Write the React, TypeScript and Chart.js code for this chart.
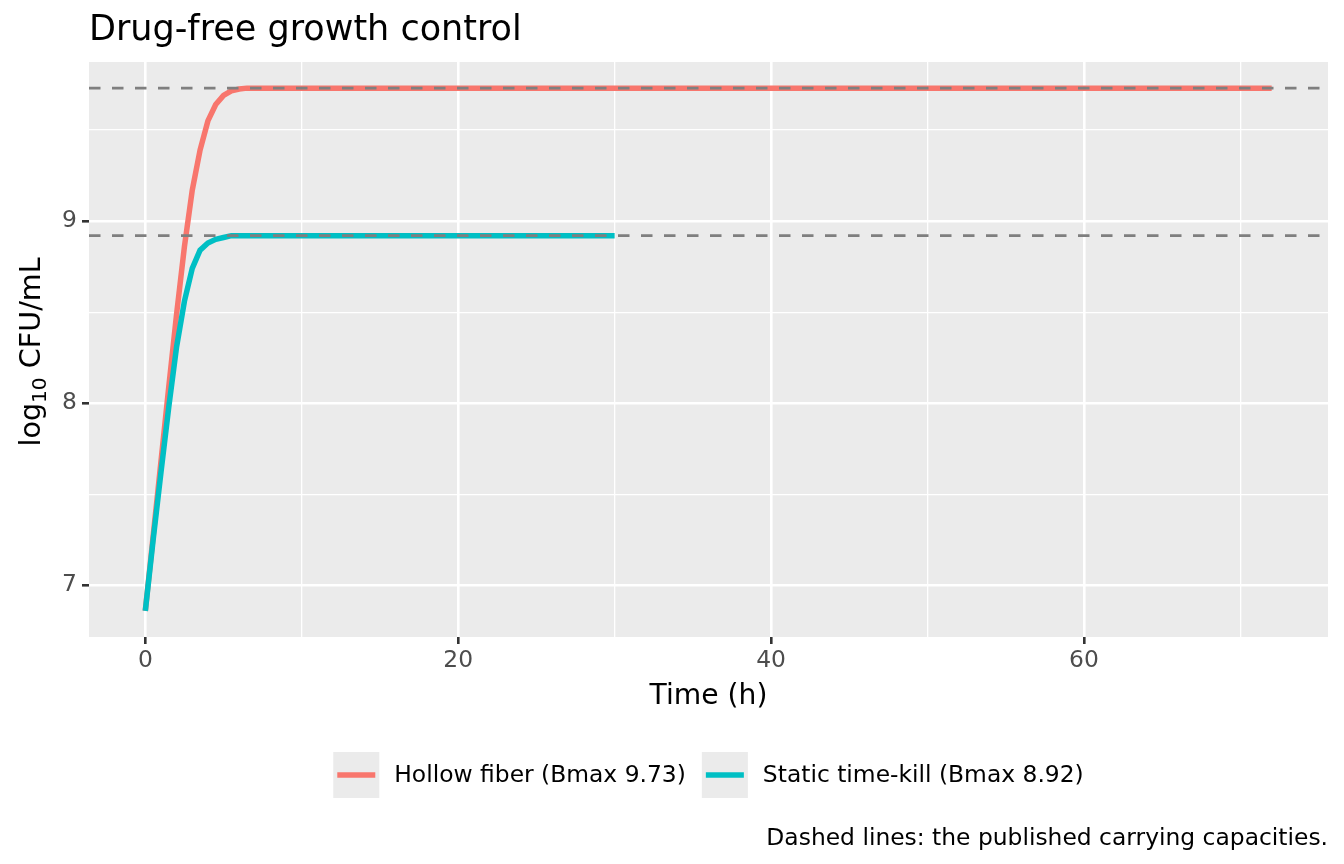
import { Chart, registerables } from 'chart.js';
import { useEffect, useRef } from 'react';

Chart.register(...registerables);

// hollow fiber run, 0-72 h
const hollowTime = [0, 0.5, 1, 1.5, 2, 2.5, 3, 3.5, 4, 4.5, 5, 5.5, 6, 6.5, 7, 72];
const hollowLog = [6.86, 7.27, 7.68, 8.09, 8.49, 8.86, 9.17, 9.39, 9.55, 9.64, 9.69, 9.715, 9.725, 9.73, 9.73, 9.73];

// static time-kill, 0-30 h
const staticTime = [0, 0.5, 1, 1.5, 2, 2.5, 3, 3.5, 4, 4.5, 5, 5.5, 6, 30];
const staticLog = [6.86, 7.25, 7.62, 7.98, 8.31, 8.56, 8.74, 8.84, 8.88, 8.90, 8.91, 8.92, 8.92, 8.92];

const seriesNames = ['Hollow fiber (Bmax 9.73)', 'Static time-kill (Bmax 8.92)'];
const seriesColors = ['#F8766D', '#00BFC4'];
const capacities = [9.73, 8.92];

const xTicks = [0, 10, 20, 30, 40, 50, 60, 70];
const yTicks = [7, 7.5, 8, 8.5, 9, 9.5];

const FONT = '"DejaVu Sans", sans-serif';
const SMALL = 23.4;

const ggPlugin = {
    id: 'ggDecor',
    beforeDraw(chart: any) {
        const { ctx, chartArea: a } = chart;
        ctx.save();
        ctx.fillStyle = '#EBEBEB';
        ctx.fillRect(a.left, a.top, a.right - a.left, a.bottom - a.top);
        ctx.restore();
    },
    afterDatasetsDraw(chart: any) {
        // dashed carrying capacity lines, over the curves
        const { ctx, chartArea: a } = chart;
        const ys = chart.scales.y;
        ctx.save();
        ctx.strokeStyle = '#7F7F7F';
        ctx.lineWidth = 2.6;
        ctx.setLineDash([11.5, 11.5]);
        capacities.forEach((c) => {
            const py = ys.getPixelForValue(c);
            ctx.beginPath();
            ctx.moveTo(a.left, py);
            ctx.lineTo(a.right, py);
            ctx.stroke();
        });
        ctx.restore();
    },
    afterDraw(chart: any) {
        const { ctx, chartArea: a } = chart;
        ctx.save();
        ctx.fillStyle = '#000000';
        ctx.textBaseline = 'alphabetic';

        // title
        ctx.font = `35px ${FONT}`;
        ctx.textAlign = 'left';
        ctx.fillText('Drug-free growth control', a.left, 40);

        // x title
        ctx.font = `28.2px ${FONT}`;
        ctx.textAlign = 'center';
        ctx.fillText('Time (h)', (a.left + a.right) / 2, 703.5);

        // y title with subscript
        ctx.translate(40, 352);
        ctx.rotate(-Math.PI / 2);
        ctx.textAlign = 'left';
        const big = `28.6px ${FONT}`;
        const small = `20.2px ${FONT}`;
        ctx.font = big;
        const w1 = ctx.measureText('log').width;
        const w3 = ctx.measureText(' CFU/mL').width;
        ctx.font = small;
        const w2 = ctx.measureText('10').width;
        let x0 = -(w1 + w2 + w3) / 2;
        ctx.font = big;
        ctx.fillText('log', x0, 0);
        x0 += w1;
        ctx.font = small;
        ctx.fillText('10', x0, 6);
        x0 += w2;
        ctx.font = big;
        ctx.fillText(' CFU/mL', x0, 0);
        ctx.restore();

        // legend
        ctx.save();
        ctx.font = `${SMALL}px ${FONT}`;
        ctx.textBaseline = 'middle';
        ctx.textAlign = 'left';
        const key = 46;
        const gapText = 15;
        const gapItem = 16;
        const widths = seriesNames.map((n) => ctx.measureText(n).width);
        const total = widths.reduce((s, w) => s + key + gapText + w, 0) + gapItem * (seriesNames.length - 1);
        let lx = (a.left + a.right) / 2 - total / 2;
        const ly = 752;
        seriesNames.forEach((n, i) => {
            ctx.fillStyle = '#EBEBEB';
            ctx.fillRect(lx, ly, key, key);
            ctx.strokeStyle = seriesColors[i];
            ctx.lineWidth = 5.5;
            ctx.beginPath();
            ctx.moveTo(lx + 4, ly + key / 2);
            ctx.lineTo(lx + key - 4, ly + key / 2);
            ctx.stroke();
            ctx.fillStyle = '#000000';
            ctx.fillText(n, lx + key + gapText, ly + key / 2 + 1);
            lx += key + gapText + widths[i] + gapItem;
        });

        // caption
        ctx.textAlign = 'right';
        ctx.textBaseline = 'alphabetic';
        ctx.fillText('Dashed lines: the published carrying capacities.', a.right, 845);
        ctx.restore();
    },
};

function ChartComponent() {
    const canvasRef = useRef<HTMLCanvasElement>(null);
    const chartRef = useRef<Chart | null>(null);

    useEffect(() => {
        document.body.style.margin = '0';
        if (!canvasRef.current) return;
        const ctx = canvasRef.current.getContext('2d');
        if (!ctx) return;

        if (chartRef.current) chartRef.current.destroy();

        const hollowPts = hollowTime.map((t, i) => ({ x: t, y: hollowLog[i] }));
        const staticPts = staticTime.map((t, i) => ({ x: t, y: staticLog[i] }));

        chartRef.current = new Chart(ctx, {
            type: 'line',
            data: {
                datasets: [
                    {
                        label: seriesNames[0],
                        data: hollowPts,
                        borderColor: seriesColors[0],
                        borderWidth: 5.5,
                        pointRadius: 0,
                        tension: 0,
                        order: 2,
                    },
                    {
                        label: seriesNames[1],
                        data: staticPts,
                        borderColor: seriesColors[1],
                        borderWidth: 5.5,
                        pointRadius: 0,
                        tension: 0,
                        order: 1,
                    },
                ],
            },
            plugins: [ggPlugin],
            options: {
                animation: false,
                responsive: true,
                maintainAspectRatio: false,
                layout: { padding: { top: 62, right: 16, left: 0, bottom: 0 } },
                scales: {
                    x: {
                        type: 'linear',
                        min: -3.6,
                        max: 75.6,
                        border: { display: false },
                        afterFit: (s: any) => { s.height = 227; },
                        afterBuildTicks: (s: any) => { s.ticks = xTicks.map((v) => ({ value: v })); },
                        grid: {
                            color: '#FFFFFF',
                            lineWidth: (c: any) => (c.tick && c.tick.value % 20 === 0 ? 2.6 : 1.3),
                            tickColor: (c: any) => (c.tick && c.tick.value % 20 === 0 ? '#333333' : 'rgba(0,0,0,0)'),
                            tickWidth: 2.6,
                            tickLength: 7,
                            drawTicks: true,
                        },
                        ticks: {
                            autoSkip: false,
                            maxRotation: 0,
                            padding: 3,
                            color: '#4D4D4D',
                            font: { family: FONT, size: SMALL },
                            callback: (v: any) => (Number(v) % 20 === 0 ? String(v) : ''),
                        },
                    },
                    y: {
                        type: 'linear',
                        min: 6.7165,
                        max: 9.8735,
                        border: { display: false },
                        afterFit: (s: any) => { s.width = 89; },
                        afterBuildTicks: (s: any) => { s.ticks = yTicks.map((v) => ({ value: v })); },
                        grid: {
                            color: '#FFFFFF',
                            lineWidth: (c: any) => (c.tick && Number.isInteger(c.tick.value) ? 2.6 : 1.3),
                            tickColor: (c: any) => (c.tick && Number.isInteger(c.tick.value) ? '#333333' : 'rgba(0,0,0,0)'),
                            tickWidth: 2.6,
                            tickLength: 7,
                            drawTicks: true,
                        },
                        ticks: {
                            autoSkip: false,
                            padding: 5,
                            color: '#4D4D4D',
                            font: { family: FONT, size: SMALL },
                            callback: (v: any) => (Number.isInteger(Number(v)) ? String(v) : ''),
                        },
                    },
                },
                plugins: {
                    legend: { display: false },
                    title: { display: false },
                    tooltip: { enabled: false },
                },
            },
        });

        return () => {
            if (chartRef.current) {
                chartRef.current.destroy();
                chartRef.current = null;
            }
        };
    }, []);

    return (
        <div style={{ position: 'relative', width: '1344px', height: '864px' }}>
            <canvas ref={canvasRef} />
        </div>
    );
}

export default function App() {
    return <ChartComponent />;
}
